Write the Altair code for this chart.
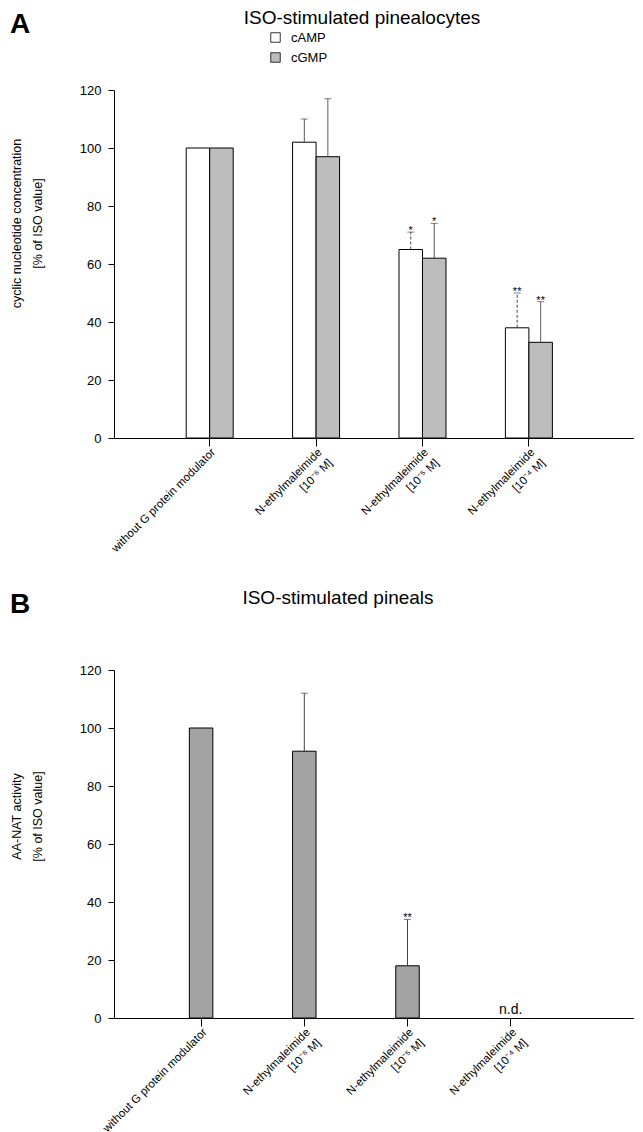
import altair as alt
import pandas as pd

# ---------------- data ----------------
categories = [
    "without G protein modulator",
    "N-ethylmaleimide|[10⁻⁶ M]",
    "N-ethylmaleimide|[10⁻⁵ M]",
    "N-ethylmaleimide|[10⁻⁴ M]",
]
nucleotides = ["cAMP", "cGMP"]

camp = [100, 102, 65, 38]
camp_err_top = [None, 110, 71, 50]
camp_sig = ["", "", "*", "**"]

cgmp = [100, 97, 62, 33]
cgmp_err_top = [None, 117, 74, 47]
cgmp_sig = ["", "", "*", "**"]

aanat = [100, 92, 18, None]
aanat_err_top = [None, 112, 34, None]
aanat_sig = ["", "", "**", ""]
aanat_note = ["", "", "", "n.d."]

y_ticks = [0, 20, 40, 60, 80, 100, 120]

# ---------------- styles ----------------
FONT = "Liberation Sans"
W, H = 520, 348
HATCH_A = "#bdbdbd"
HATCH_B = "#a3a3a3"
ERR = "#444444"
camp_dash = ["solid", "solid", "dash", "dash"]

dfA = pd.DataFrame({
    "cat": categories * 2,
    "nuc": [nucleotides[0]] * 4 + [nucleotides[1]] * 4,
    "val": camp + cgmp,
    "top": camp_err_top + cgmp_err_top,
    "sig": camp_sig + cgmp_sig,
    "dash": camp_dash + ["solid"] * 4,
})

dfB = pd.DataFrame({
    "cat": categories,
    "val": aanat,
    "top": aanat_err_top,
    "sig": aanat_sig,
    "note": aanat_note,
})


def x_enc(pi, po, align):
    return alt.X(
        "cat:N",
        sort=categories,
        scale=alt.Scale(domain=categories, paddingInner=pi, paddingOuter=po, align=align),
        axis=alt.Axis(
            title=None,
            labelExpr="split(datum.label, '|')",
            labelAngle=-45,
            labelAlign="right",
            labelBaseline="top",
            labelFontSize=11.5,
            labelPadding=0,
            labelLineHeight=15,
            tickSize=8,
        ),
    )


def y_enc(field, title, title_y):
    return alt.Y(
        field,
        scale=alt.Scale(domain=[0, 120], nice=False),
        axis=alt.Axis(
            values=y_ticks,
            title=title,
            titleX=-104,
            titleY=title_y,
            titleAngle=270,
            titleBaseline="top",
            titleAlign="center",
            titleFontSize=12.5,
            titleFontWeight="normal",
            titleLineHeight=21,
            labelFontSize=13,
            tickSize=6,
            labelPadding=7,
        ),
    )


# ---------------- panel A ----------------
titleA = ["cyclic nucleotide concentration", "[% of ISO value]"]
xA = x_enc(0.5583, 0.7227, 0.4694)
xoffA = alt.XOffset("nuc:N", sort=nucleotides, scale=alt.Scale(paddingInner=0, paddingOuter=0))
baseA = alt.Chart(dfA)

barsA = baseA.mark_bar(stroke="black", strokeWidth=1).encode(
    x=xA,
    xOffset=xoffA,
    y=y_enc("val:Q", titleA, 133),
    fill=alt.Fill(
        "nuc:N",
        scale=alt.Scale(domain=nucleotides, range=["white", HATCH_A]),
        legend=alt.Legend(
            title=None,
            orient="none",
            legendX=155,
            legendY=-59,
            symbolType="square",
            symbolSize=90,
            symbolStrokeColor="black",
            symbolStrokeWidth=0.8,
            labelFontSize=13,
            labelOffset=9,
            rowPadding=6,
        ),
    ),
)

errA = baseA.transform_filter("isValid(datum.top)").mark_rule(color=ERR, strokeWidth=1).encode(
    x=xA,
    xOffset=xoffA,
    y=y_enc("val:Q", titleA, 133),
    y2="top:Q",
    strokeDash=alt.StrokeDash(
        "dash:N",
        scale=alt.Scale(domain=["solid", "dash"], range=[[1, 0], [3, 2]]),
        legend=None,
    ),
)

capA = baseA.transform_filter("isValid(datum.top)").mark_tick(
    color=ERR, thickness=1, size=7, orient="horizontal"
).encode(x=xA, xOffset=xoffA, y=y_enc("top:Q", titleA, 133))

sigA = baseA.transform_filter("datum.sig != ''").mark_text(
    baseline="alphabetic", dy=2, fontSize=11, color="black"
).encode(x=xA, xOffset=xoffA, y=y_enc("top:Q", titleA, 133), text="sig:N")

letterA = alt.Chart(pd.DataFrame({"t": ["A"]})).mark_text(
    x=-104, y=-57, align="left", baseline="alphabetic", fontSize=28, fontWeight="bold", color="black"
).encode(text="t:N")

headA = alt.Chart(pd.DataFrame({"t": ["ISO-stimulated pinealocytes"]})).mark_text(
    x=248, y=-66, align="center", baseline="alphabetic", fontSize=19, color="black"
).encode(text="t:N")

panelA = alt.layer(barsA, errA, capA, sigA, letterA, headA).properties(width=W, height=H)

# ---------------- panel B ----------------
titleB = ["AA-NAT activity", "[% of ISO value]"]
xB = x_enc(0.7723, 0.9055, 0.4032)
baseB = alt.Chart(dfB)

barsB = baseB.transform_filter("isValid(datum.val)").mark_bar(
    stroke="black", strokeWidth=1, fill=HATCH_B
).encode(x=xB, y=y_enc("val:Q", titleB, 146))

errB = baseB.transform_filter("isValid(datum.top)").mark_rule(color=ERR, strokeWidth=1).encode(
    x=xB, y=y_enc("val:Q", titleB, 146), y2="top:Q"
)

capB = baseB.transform_filter("isValid(datum.top)").mark_tick(
    color=ERR, thickness=1, size=7, orient="horizontal"
).encode(x=xB, y=y_enc("top:Q", titleB, 146))

sigB = baseB.transform_filter("datum.sig != ''").mark_text(
    baseline="alphabetic", dy=2, fontSize=11, color="black"
).encode(x=xB, y=y_enc("top:Q", titleB, 146), text="sig:N")

noteB = baseB.transform_filter("datum.note != ''").mark_text(
    baseline="alphabetic", dy=-4, fontSize=14, color="black"
).encode(x=xB, y=alt.datum(0), text="note:N")

letterB = alt.Chart(pd.DataFrame({"t": ["B"]})).mark_text(
    x=-104, y=-57, align="left", baseline="alphabetic", fontSize=28, fontWeight="bold", color="black"
).encode(text="t:N")

headB = alt.Chart(pd.DataFrame({"t": ["ISO-stimulated pineals"]})).mark_text(
    x=224, y=-66, align="center", baseline="alphabetic", fontSize=19, color="black"
).encode(text="t:N")

panelB = alt.layer(barsB, errB, capB, sigB, noteB, letterB, headB).properties(width=W, height=H)

chart = (
    alt.vconcat(panelA, panelB, spacing=34)
    .resolve_scale(fill="independent", strokeDash="independent")
    .resolve_legend(fill="independent")
    .properties(padding={"left": 2, "top": 1, "right": 0, "bottom": 0})
    .configure(font=FONT)
    .configure_view(stroke=None)
    .configure_axis(
        grid=False,
        domainColor="black",
        tickColor="black",
        labelColor="black",
        titleColor="black",
        labelFont=FONT,
        titleFont=FONT,
        domainWidth=1,
        tickWidth=1,
    )
    .configure_legend(labelFont=FONT, labelColor="black")
    .configure_text(font=FONT)
)

chart.save("out.html", embed_options={"renderer": "svg", "actions": False})
